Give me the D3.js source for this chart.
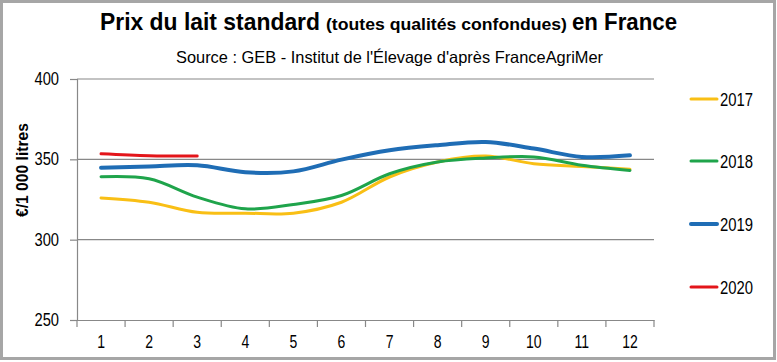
<!DOCTYPE html>
<html><head><meta charset="utf-8">
<script src="https://cdn.jsdelivr.net/npm/d3@7"></script>
<style>
body{margin:0;background:#fff;}
svg{display:block;}
text{font-family:"Liberation Sans",Arial,sans-serif;fill:#000;}
</style></head>
<body>
<svg id="c" width="777" height="362"></svg>
<script>
const months = [1,2,3,4,5,6,7,8,9,10,11,12];
const yTicks = [250,300,350,400];
const s2017 = [326,323.3,317,316.5,316.5,323.3,339,348.3,352,347.3,345.6,343.8];
const s2018 = [339.2,337.9,326.5,319.2,321.9,327.5,341,348.3,350.8,351.5,346.3,343.1];
const s2019 = [344.8,345.6,346.3,342,342.5,349.8,355.6,358.8,360.8,356.7,351.5,352.5];
const s2020 = [353.5,352.3,352.1];
const seriesNames = ["2017","2018","2019","2020"];
const seriesData = [s2017,s2018,s2019,s2020];
const colors = ["#F9BF15","#1FA44B","#1F6DB5","#E3151A"];
const widths = [3,3,4,3];

function narrow(sel, f){
  sel.each(function(){
    const l=this.getComputedTextLength();
    d3.select(this).attr("textLength",l*f).attr("lengthAdjust","spacingAndGlyphs");
  });
}
function fitText(x0,y0,w,size,bold,str){
  return svg.append("text").attr("x",x0).attr("y",y0).attr("font-size",size)
    .attr("font-weight",bold?"bold":"normal")
    .attr("textLength",w).attr("lengthAdjust","spacingAndGlyphs").text(str);
}

const svg = d3.select("#c");
svg.append("rect").attr("x",1.5).attr("y",1.5).attr("width",773).attr("height",357)
  .attr("fill","#fff").attr("stroke","#a6a6a6").attr("stroke-width",3);

const L=77,R=654,T=79,B=320;
const x = d3.scaleBand().domain(months).range([L,R]);
const y = d3.scaleLinear().domain([250,400]).range([B,T]);

// gridlines
svg.append("g").selectAll("line").data(yTicks.filter(d=>d>250)).join("line")
  .attr("x1",L).attr("x2",R).attr("y1",d=>y(d)).attr("y2",d=>y(d))
  .attr("stroke","#888").attr("stroke-width",1.2);

// y axis
const ya = svg.append("g").attr("transform",`translate(${L},0)`)
  .call(d3.axisLeft(y).tickValues(yTicks).tickSize(7).tickPadding(11));
ya.select(".domain").attr("stroke","#888").attr("stroke-width",1.2);
ya.selectAll(".tick line").attr("stroke","#888").attr("stroke-width",1.2);
ya.selectAll("text").attr("font-size",17.5).style("font-family",'"Liberation Sans",Arial,sans-serif').attr("fill","#000");
narrow(ya.selectAll("text"),0.84);

// x axis
const xa = svg.append("g").attr("transform",`translate(0,${B})`)
  .call(d3.axisBottom(x).tickSize(0).tickPadding(15.5));
xa.select(".domain").attr("stroke","#888").attr("stroke-width",1.2);
xa.selectAll("text").attr("font-size",17.5).style("font-family",'"Liberation Sans",Arial,sans-serif').attr("fill","#000");
narrow(xa.selectAll("text"),0.8);
// band-boundary ticks
const bounds = months.map(m=>x(m)).concat([R]);
svg.append("g").selectAll("line").data(bounds).join("line")
  .attr("x1",d=>d).attr("x2",d=>d).attr("y1",B).attr("y2",B+7)
  .attr("stroke","#888").attr("stroke-width",1.2);

// lines
const line = d3.line().x((d,i)=>x(months[i])+x.bandwidth()/2).y(d=>y(d)).curve(d3.curveCatmullRom.alpha(0.5));
svg.append("g").selectAll("path").data(seriesData).join("path")
  .attr("d",d=>line(d)).attr("fill","none")
  .attr("stroke",(d,i)=>colors[i]).attr("stroke-width",(d,i)=>widths[i])
  .attr("stroke-linecap","round").attr("stroke-linejoin","round");

// y label
svg.append("text").attr("transform","translate(27.5,170) rotate(-90)")
  .attr("text-anchor","middle").attr("font-size",16).attr("font-weight","bold")
  .attr("textLength",94).attr("lengthAdjust","spacingAndGlyphs")
  .text("€/1 000 litres");

// title
fitText(100,29.5,220,24.5,true,"Prix du lait standard");
fitText(326,29.5,241,17,true,"(toutes qualités confondues)");
fitText(572,29.5,105,24.5,true,"en France");

fitText(176,63,427,16.5,false,"Source : GEB - Institut de l'Élevage d'après FranceAgriMer");

// legend
const legY = [99,161,224,287];
const lg = svg.append("g").selectAll("g").data(seriesNames).join("g")
  .attr("transform",(d,i)=>`translate(0,${legY[i]})`);
lg.append("line").attr("x1",691).attr("x2",717).attr("y1",0).attr("y2",0)
  .attr("stroke",(d,i)=>colors[i]).attr("stroke-width",(d,i)=>widths[i]).attr("stroke-linecap","round");
lg.append("text").attr("x",720).attr("y",6.5).attr("font-size",18)
  .attr("textLength",33).attr("lengthAdjust","spacingAndGlyphs").text(d=>d);
</script>
</body></html>
